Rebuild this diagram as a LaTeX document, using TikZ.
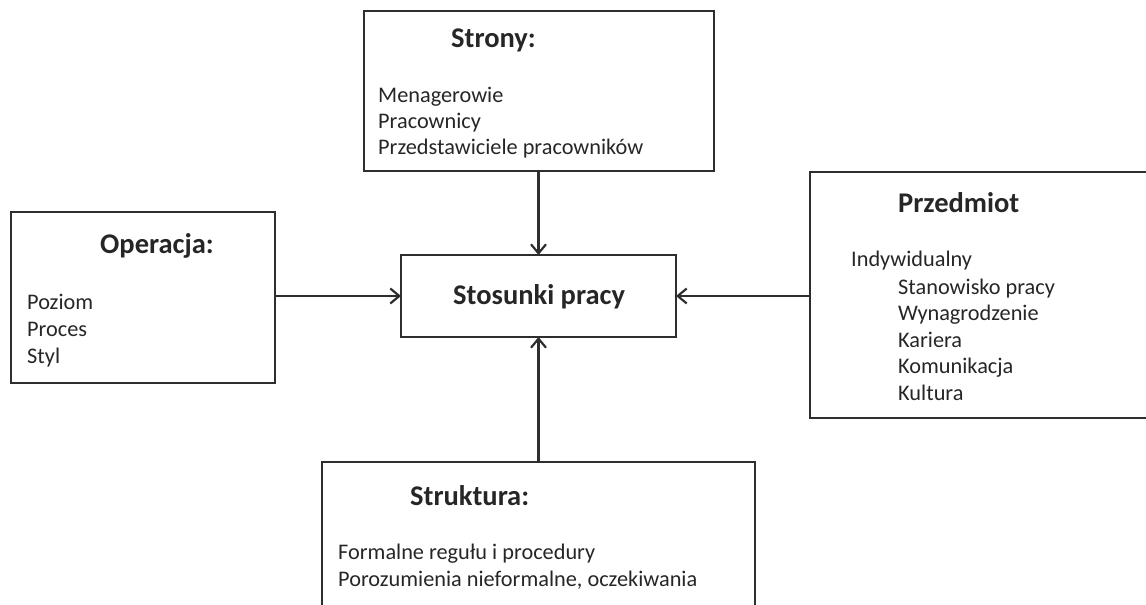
\documentclass[tikz,border=0pt]{standalone}
\usepackage{fontspec}
\setmainfont{Carlito}
\usetikzlibrary{arrows.meta}
\definecolor{ink}{HTML}{262626}
\definecolor{edge}{HTML}{2E2E2E}
\tikzset{
  box/.style={draw=edge, line width=2.6pt, fill=none, anchor=north west, inner sep=0pt, outer sep=0pt},
  body/.style={anchor=base west, inner sep=0pt, text=ink, font=\fontsize{22.3}{26}\selectfont},
  title/.style={anchor=base west, inner sep=0pt, text=ink, font=\fontsize{28.5}{33}\selectfont\bfseries},
  conn/.style={draw=edge, line width=2.2pt, -{Straight Barb[length=9pt, width=15pt, line width=2.2pt]}},
}
\begin{document}
\begin{tikzpicture}[x=1pt, y=-1pt]
\useasboundingbox (0,0) rectangle (1146,605);
\clip (0,0) rectangle (1146,605);
% boxes
\node[box, minimum width=350pt, minimum height=160pt] (strony) at (364,11) {};
\node[box, minimum width=264pt, minimum height=171pt] (oper) at (11,212) {};
\node[box, minimum width=275pt, minimum height=82pt] (stos) at (401,255) {};
\node[box, minimum width=345pt, minimum height=246pt] (przed) at (810,172) {};
\node[box, minimum width=433pt, minimum height=160pt] (strukt) at (322,462) {};
% texts
\node[title] (tstrony) at (451,47) {Strony:};
\node[body] (s1) at (378,102) {Menagerowie};
\node[body] (s2) at (378,128) {Pracownicy};
\node[body] (s3) at (378,154) {Przedstawiciele pracowników};
\node[title] (toper) at (100,253) {Operacja:};
\node[body] (o1) at (27,309) {Poziom};
\node[body] (o2) at (27,336) {Proces};
\node[body] (o3) at (27,363) {Styl};
\node[title] (tstos) at (453,304) {Stosunki pracy};
\node[title] (tprzed) at (898,212) {Przedmiot};
\node[body] (p0) at (851,266) {Indywidualny};
\node[body] (p1) at (898,294) {Stanowisko pracy};
\node[body] (p2) at (898,320) {Wynagrodzenie};
\node[body] (p3) at (898,347) {Kariera};
\node[body] (p4) at (898,373) {Komunikacja};
\node[body] (p5) at (898,400) {Kultura};
\node[title] (tstrukt) at (410,505) {Struktura:};
\node[body] (k1) at (338,559) {Formalne regułu i procedury};
\node[body] (k2) at (338,586) {Porozumienia nieformalne, oczekiwania};
% connectors
\draw[conn] (strony.south -| stos.north) -- (stos.north);
\draw[conn] (oper.east |- stos.west) -- (stos.west);
\draw[conn] (przed.west |- stos.east) -- (stos.east);
\draw[conn] (strukt.north -| stos.south) -- (stos.south);
\end{tikzpicture}
\end{document}
